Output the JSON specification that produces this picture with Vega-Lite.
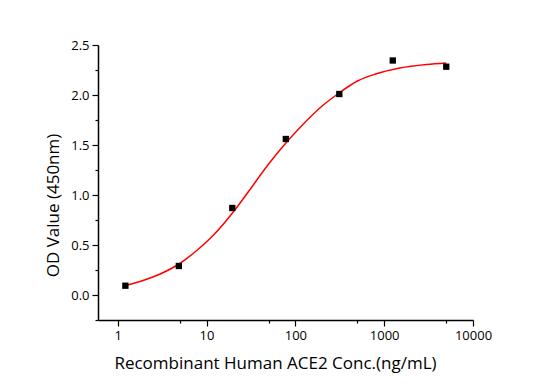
{
  "$schema": "https://vega.github.io/schema/vega-lite/v6.json",
  "width": 375,
  "height": 275,
  "autosize": {"type": "none"},
  "padding": {"left": 98, "top": 45, "right": 77, "bottom": 64},
  "background": "white",
  "config": {
    "view": {"stroke": null},
    "font": "Open Sans",
    "axis": {
      "grid": false,
      "domainColor": "black",
      "domainWidth": 1.5,
      "tickColor": "black",
      "tickWidth": 1.2,
      "labelColor": "black",
      "titleColor": "black",
      "labelFont": "Open Sans",
      "titleFont": "Open Sans",
      "labelFontSize": 13,
      "titleFontSize": 17,
      "titleFontWeight": "normal"
    }
  },
  "datasets": {
    "curve": [
      {"conc": 1.22, "od": 0.095},
      {"conc": 2, "od": 0.15},
      {"conc": 3, "od": 0.21},
      {"conc": 5, "od": 0.315},
      {"conc": 8, "od": 0.455},
      {"conc": 12, "od": 0.60},
      {"conc": 20, "od": 0.83},
      {"conc": 30, "od": 1.04},
      {"conc": 50, "od": 1.31},
      {"conc": 80, "od": 1.53},
      {"conc": 120, "od": 1.70},
      {"conc": 200, "od": 1.89},
      {"conc": 300, "od": 2.01},
      {"conc": 500, "od": 2.14},
      {"conc": 800, "od": 2.21},
      {"conc": 1500, "od": 2.27},
      {"conc": 3000, "od": 2.305},
      {"conc": 5000, "od": 2.32}
    ],
    "points": [
      {"conc": 1.22, "od": 0.093},
      {"conc": 4.88, "od": 0.29},
      {"conc": 19.5, "od": 0.87},
      {"conc": 78.1, "od": 1.56},
      {"conc": 312.5, "od": 2.01},
      {"conc": 1250, "od": 2.345},
      {"conc": 5000, "od": 2.283}
    ]
  },
  "encoding": {
    "x": {
      "field": "conc",
      "type": "quantitative",
      "scale": {"type": "log", "domain": [0.6, 10000], "nice": false},
      "axis": {
        "title": "Recombinant Human ACE2 Conc.(ng/mL)",
        "values": [1, 5, 10, 50, 100, 500, 1000, 5000, 10000],
        "format": "d",
        "labelExpr": "indexof([1,10,100,1000,10000], datum.value) >= 0 ? datum.label : ''",
        "tickSize": {"condition": {"test": "indexof([1,10,100,1000,10000], datum.value) >= 0", "value": 6}, "value": 3},
        "labelPadding": 3,
        "labelFlush": false,
        "titleX": 177,
        "titleY": 48,
        "titleAlign": "center",
        "titleBaseline": "alphabetic"
      }
    },
    "y": {
      "field": "od",
      "type": "quantitative",
      "scale": {"domain": [-0.25, 2.5], "nice": false, "zero": false},
      "axis": {
        "title": "OD Value (450nm)",
        "values": [-0.25, 0, 0.25, 0.5, 0.75, 1, 1.25, 1.5, 1.75, 2, 2.25, 2.5],
        "format": ".1f",
        "labelExpr": "(datum.value >= 0 && abs(datum.value*2 - round(datum.value*2)) < 0.000001) ? datum.label : ''",
        "tickSize": {"condition": {"test": "abs(datum.value*2 - round(datum.value*2)) < 0.000001", "value": 6}, "value": 3},
        "labelPadding": 3,
        "labelFlush": false,
        "titleX": -40,
        "titleY": 160,
        "titleAngle": -90,
        "titleAlign": "center",
        "titleBaseline": "alphabetic"
      }
    }
  },
  "layer": [
    {
      "data": {"name": "curve"},
      "mark": {"type": "line", "color": "#FF0000", "strokeWidth": 1.5, "interpolate": "monotone"}
    },
    {
      "data": {"name": "points"},
      "mark": {"type": "square", "color": "black", "filled": true, "opacity": 1, "size": 40}
    }
  ]
}
